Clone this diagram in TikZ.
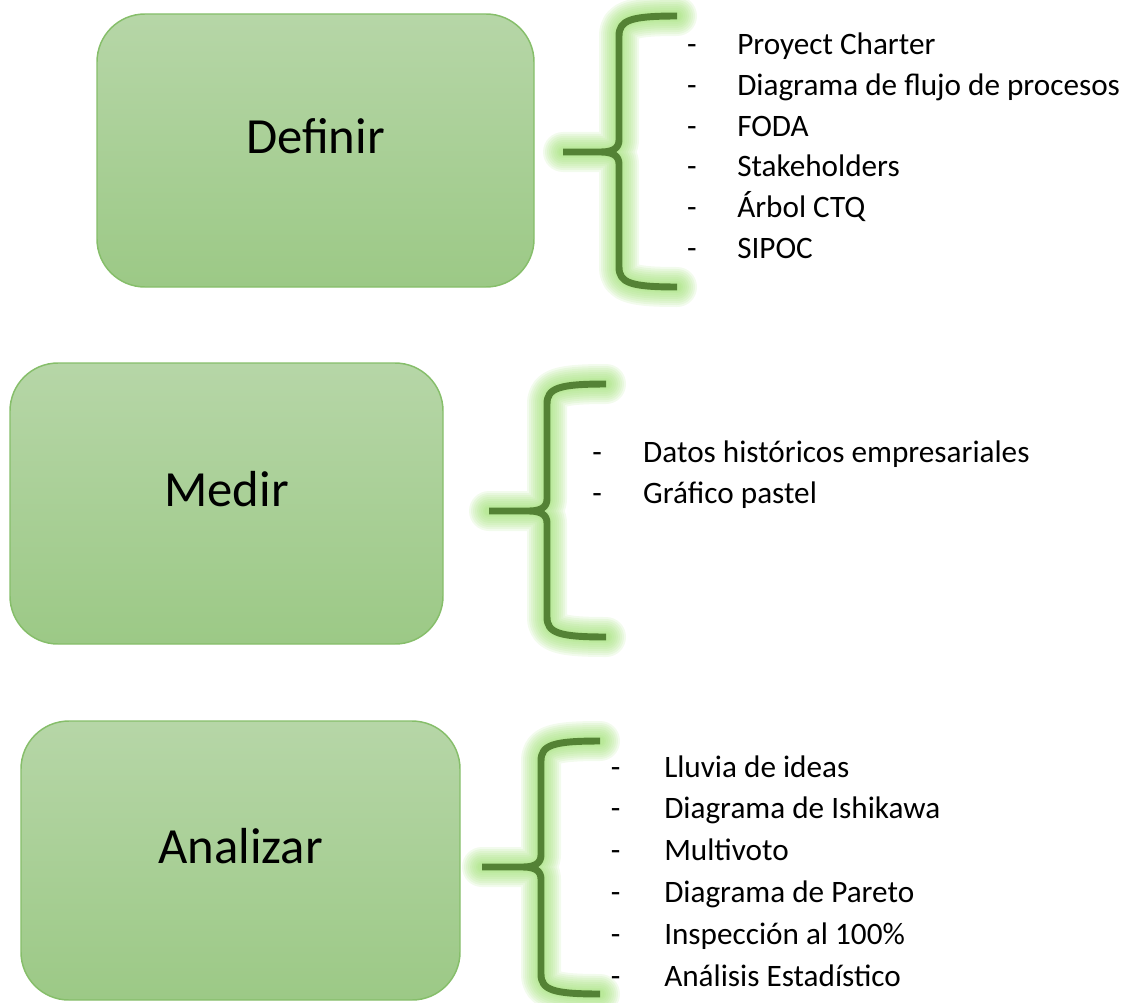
\documentclass[tikz,border=0pt]{standalone}
\usepackage{fontspec}
\setmainfont{Carlito}
\usetikzlibrary{calc}

\definecolor{boxtop}{RGB}{182,214,167}
\definecolor{boxbot}{RGB}{156,201,134}
\definecolor{boxline}{RGB}{134,190,106}
\definecolor{bracegreen}{RGB}{84,130,53}
\definecolor{glowgreen}{RGB}{158,224,114}

\tikzset{
  stagebox/.style={rounded corners=36pt, draw=boxline, line width=1.1pt,
    top color=boxtop, bottom color=boxbot, inner sep=0pt},
  stagelabel/.style={anchor=base, inner sep=0pt,
    font=\fontsize{38}{45}\selectfont},
  listitem/.style={anchor=base west, inner sep=0pt,
    font=\fontsize{23.4}{28}\selectfont},
}

% curly brace with a soft glow: tip x, spine x, end x, top y, middle y, bottom y
\newcommand\glowbrace[6]{%
  \foreach \w in {30,27,24,21,18,15,12,9,7}{%
    \path[draw=glowgreen, line width=\w pt, opacity=0.13, line cap=round, line join=round]
      (#3,#4) .. controls (#2+12,#4) and (#2,#4+4) .. (#2,#4+20)
      -- (#2,#5-12) .. controls (#2,#5-4) and (#2-6,#5) .. (#2-18,#5) -- (#1,#5)
      (#1,#5) -- (#2-18,#5) .. controls (#2-6,#5) and (#2,#5+4) .. (#2,#5+12)
      -- (#2,#6-20) .. controls (#2,#6-4) and (#2+12,#6) .. (#3,#6);
  }%
  \path[draw=bracegreen, line width=5.2pt, line join=round]
    (#3,#4) .. controls (#2+12,#4) and (#2,#4+4) .. (#2,#4+20)
    -- (#2,#5-12) .. controls (#2,#5-4) and (#2-6,#5) .. (#2-18,#5) -- (#1,#5)
    (#1,#5) -- (#2-18,#5) .. controls (#2-6,#5) and (#2,#5+4) .. (#2,#5+12)
    -- (#2,#6-20) .. controls (#2,#6-4) and (#2+12,#6) .. (#3,#6);
}

\begin{document}
\begin{tikzpicture}[x=0.75pt,y=-0.75pt]
  \useasboundingbox (0,0) rectangle (1123,1002);

  % stage boxes
  \node[stagebox, minimum width=437*0.75pt, minimum height=273*0.75pt] (def) at (315.5,150.5) {};
  \node[stagebox, minimum width=433*0.75pt, minimum height=281*0.75pt] (med) at (226.5,503.5) {};
  \node[stagebox, minimum width=439*0.75pt, minimum height=279*0.75pt] (ana) at (240.5,860.5) {};

  \node[stagelabel] (defT) at ([yshift=-2.2pt]def.center) {Definir};
  \node[stagelabel] (medT) at ([yshift=-2.6pt]med.center) {Medir};
  \node[stagelabel] (anaT) at ([yshift=-2.6pt]ana.center) {Analizar};

  % braces
  \glowbrace{563}{619}{677}{16}{152}{287}
  \glowbrace{489}{547}{606}{384}{511}{637}
  \glowbrace{482}{541}{600}{741}{867}{994}

  % tool lists
  \foreach \t [count=\i] in {Proyect Charter, Diagrama de flujo de procesos, FODA,
      Stakeholders, Árbol CTQ, SIPOC}
    \node[listitem] (defI\i) at (737, 55+40.6*\i-40.6) {\llap{-\hspace{30.4pt}}\t};

  \foreach \t [count=\i] in {Datos históricos empresariales, Gráfico pastel}
    \node[listitem] (medI\i) at (643, 462+41*\i-41) {\llap{-\hspace{31pt}}\t};

  \foreach \t [count=\i] in {Lluvia de ideas, Diagrama de Ishikawa, Multivoto,
      Diagrama de Pareto, Inspección al 100\%, Análisis Estadístico}
    \node[listitem] (anaI\i) at (664, 777+41.8*\i-41.8) {\llap{-\hspace{32.8pt}}\t};
\end{tikzpicture}
\end{document}
